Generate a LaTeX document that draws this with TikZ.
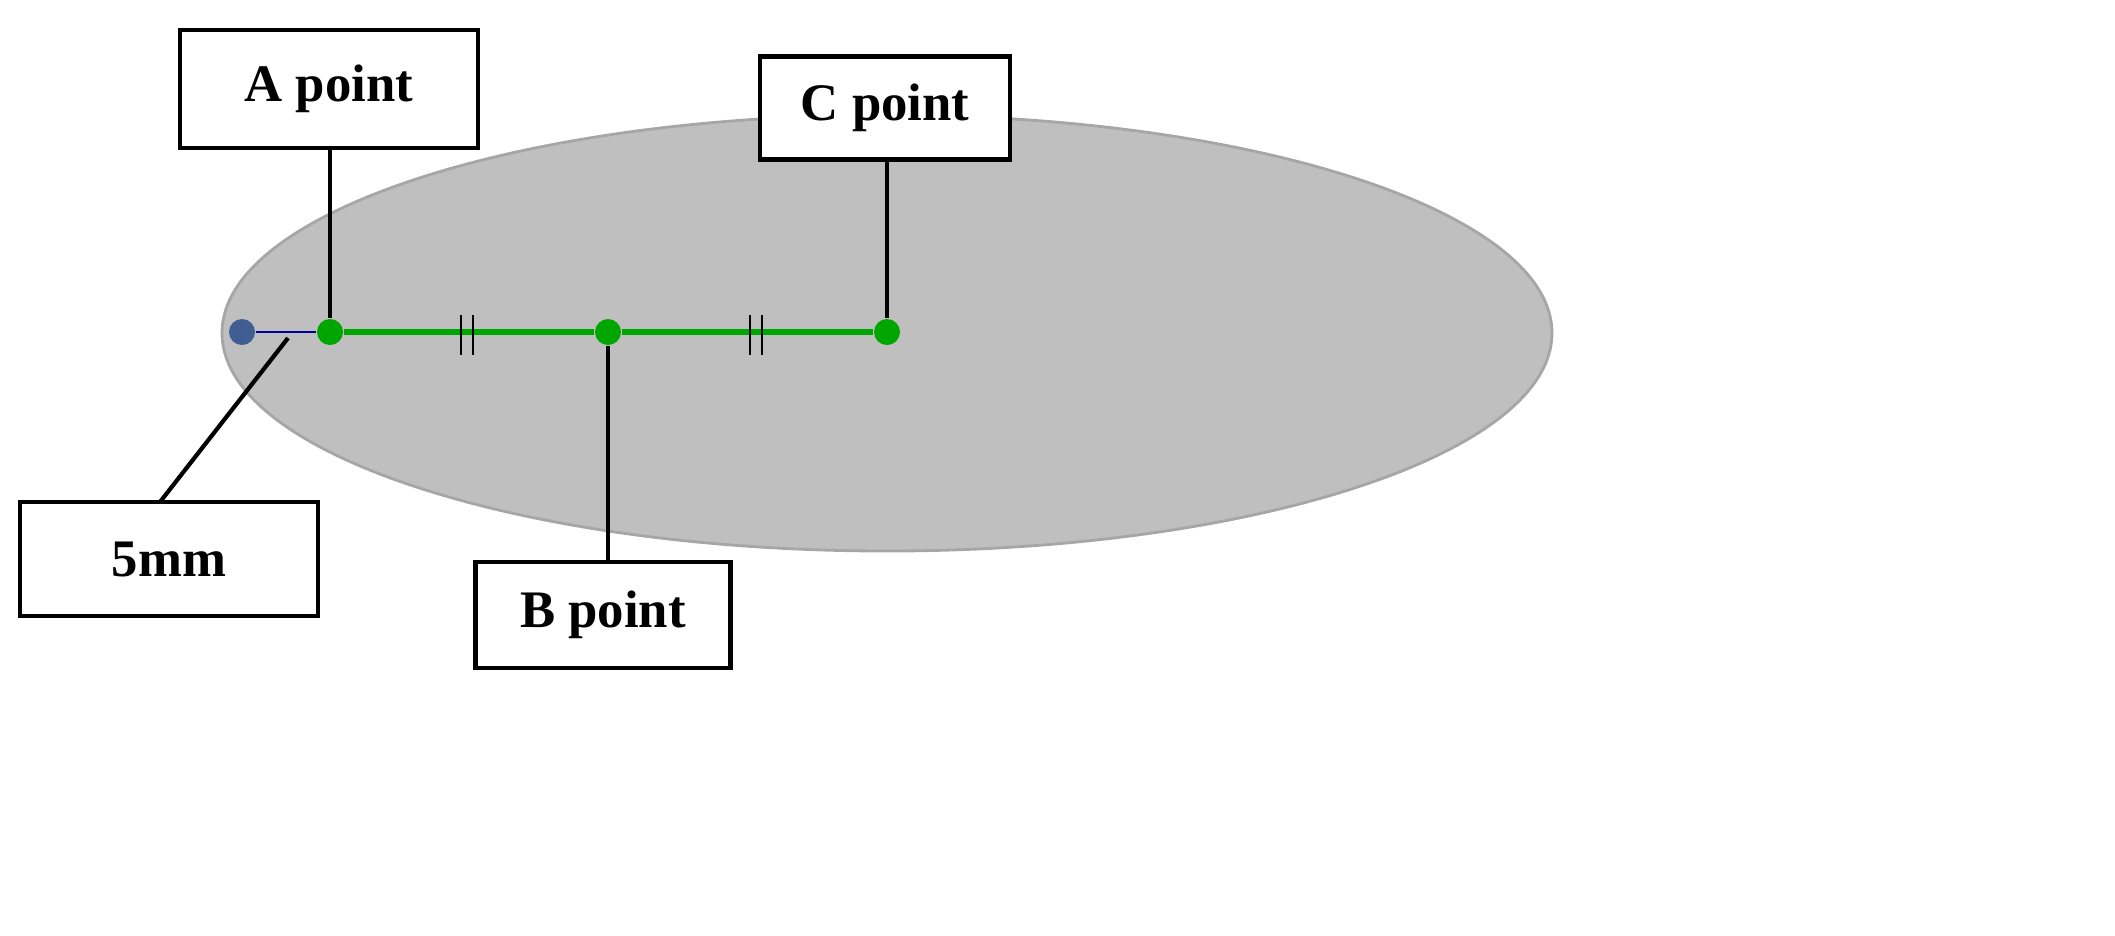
\documentclass[tikz,border=0pt]{standalone}
\usepackage{fontspec}
\setmainfont{Liberation Serif}
\begin{document}
\begin{tikzpicture}[x=0.01cm,y=-0.01cm,
 box/.style={draw,line width=1.2pt,fill=white,inner sep=0,font=\fontsize{15}{18}\selectfont\bfseries},
 dot/.style={circle,fill=green!65!black,inner sep=0,minimum size=0.26cm},
 ln/.style={line width=1.2pt}]
\useasboundingbox (0,0) rectangle (2115,935);
\fill[gray!50,draw=gray!70,line width=0.8pt] (887,333) ellipse [x radius=665, y radius=218];
\node[circle,fill=cyan!40!blue!70!black,inner sep=0,minimum size=0.26cm] (o) at (242,332) {};
\node[dot] (a) at (330,332) {};
\node[dot] (b) at (608,332) {};
\node[dot] (c) at (887,332) {};
\draw[blue!60!black,line width=0.8pt] (o) -- (a);
\draw[green!65!black,line width=1.6pt] (a) -- (b) -- (c);
\foreach \x in {461,473,750,762} \draw[line width=0.8pt] (\x,315) -- (\x,355);
\node[box,minimum width=2.98cm,minimum height=1.18cm] (A) at (329,89) {A point};
\node[box,minimum width=2.50cm,minimum height=1.03cm] (C) at (885,108) {C point};
\node[box,minimum width=2.55cm,minimum height=1.06cm] (B) at (603,615) {B point};
\node[box,minimum width=2.98cm,minimum height=1.14cm] (M) at (169,559) {5mm};
\coordinate (m) at (288,338);
\draw[ln] (A.south -| a) -- (a);
\draw[ln] (C.south -| c) -- (c);
\draw[ln] (B.north -| b) -- (b);
\draw[ln] (160,502) -- (m);
\end{tikzpicture}
\end{document}
